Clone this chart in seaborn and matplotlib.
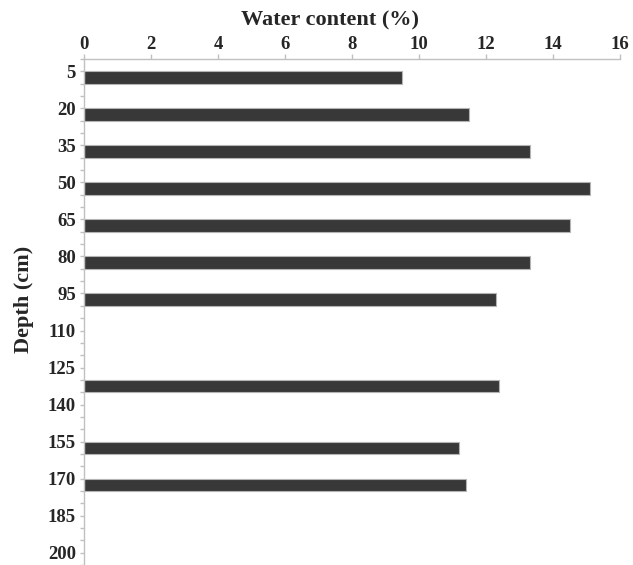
import numpy as np
import pandas as pd
import matplotlib
matplotlib.use('Agg')
import matplotlib.pyplot as plt
import seaborn as sns

# Độ sâu đầu mỗi lớp mẫu (cm) và độ ẩm (%)
depth_cm = [5, 20, 35, 50, 65, 80, 95, 130, 155, 170]
water_pct = [9.5, 11.5, 13.3, 15.1, 14.5, 13.3, 12.3, 12.4, 11.2, 11.4]
layer_cm = 5  # mỗi mẫu dày 5 cm

depth_ticks = list(range(5, 201, 15))
water_ticks = list(range(0, 17, 2))

sns.set_style('ticks')
plt.rcParams['font.family'] = ['Liberation Serif', 'DejaVu Serif']
plt.rcParams['font.weight'] = 'bold'

# tâm của mỗi lớp để vẽ thanh
df = pd.DataFrame({'depth': np.array(depth_cm) + layer_cm / 2, 'water': water_pct})

fig = plt.figure(figsize=(6.33, 5.65), dpi=100)
ax = fig.add_axes([0.1327, 0.0, 0.8468, 0.8956])

sns.barplot(data=df, x='water', y='depth', orient='h', native_scale=True,
            width=1 / 3, color='#383838', saturation=1, errorbar=None,
            edgecolor='#b4b4b4', linewidth=0.8, ax=ax)

ax.set_xlim(0, 16)
ax.set_ylim(205, 0)

# trục x nằm phía trên
ax.xaxis.tick_top()
ax.xaxis.set_label_position('top')
ax.set_xticks(water_ticks)
ax.set_yticks(depth_ticks)
ax.set_yticks(list(range(0, 206, 5)), minor=True)

for side in ['bottom', 'right']:
    ax.spines[side].set_visible(False)
for side in ['top', 'left']:
    ax.spines[side].set_color('#c0c0c0')
    ax.spines[side].set_linewidth(1.0)

ax.tick_params(axis='x', which='major', top=True, bottom=False, length=3.4,
               width=1, color='#c0c0c0', pad=0.8, labelsize=13.5)
ax.tick_params(axis='y', which='both', left=True, length=2.6, width=1,
               color='#c0c0c0', pad=3.2, labelsize=13.5)

ax.set_xlabel('Water content (%)', fontsize=16, fontweight='bold')
ax.xaxis.label.set_va('center')
ax.xaxis.set_label_coords(0.459, 1.077)

ax.set_ylabel('Depth (cm)', fontsize=16, fontweight='bold')
ax.yaxis.label.set_va('center')
ax.yaxis.set_label_coords(-0.112, 0.524)

fig.savefig('out.png', dpi=100)
plt.close()
